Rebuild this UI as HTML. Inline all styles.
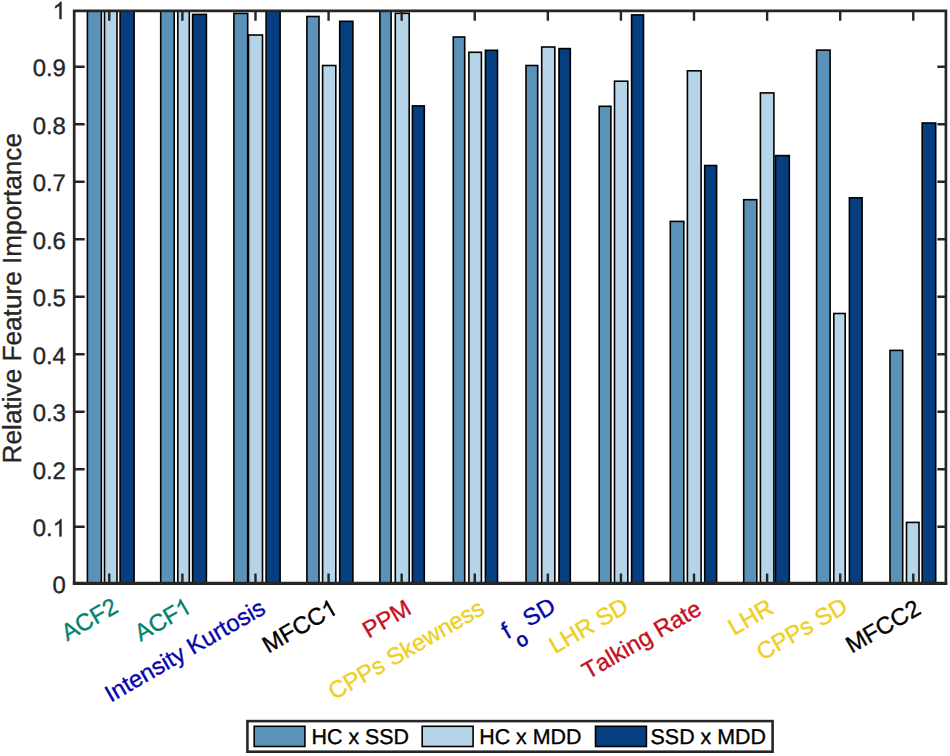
<!DOCTYPE html>
<html><head><meta charset="utf-8"><title>Relative Feature Importance</title>
<style>html,body{margin:0;padding:0;background:#fff;}svg{display:block;}text{font-family:"Liberation Sans",sans-serif;stroke-width:0.35px;stroke-linejoin:round;font-kerning:none;font-feature-settings:"kern" 0,"liga" 0;text-rendering:geometricPrecision;}</style></head><body>
<svg width="950" height="756" viewBox="0 0 950 756">
<rect x="0" y="0" width="950" height="756" fill="#fff"/>
<g stroke="#000" stroke-width="1.6" stroke-linejoin="miter">
<rect x="87.40" y="10.90" width="14.00" height="572.00" fill="#5b92b8"/>
<rect x="104.50" y="10.90" width="12.50" height="572.00" fill="#b6d4e8"/>
<rect x="120.10" y="10.90" width="14.00" height="572.00" fill="#063e80"/>
<rect x="160.70" y="10.90" width="13.50" height="572.00" fill="#5b92b8"/>
<rect x="177.80" y="10.90" width="11.50" height="572.00" fill="#b6d4e8"/>
<rect x="192.60" y="14.40" width="13.80" height="568.50" fill="#063e80"/>
<rect x="233.90" y="13.40" width="13.80" height="569.50" fill="#5b92b8"/>
<rect x="248.50" y="35.00" width="14.00" height="547.90" fill="#b6d4e8"/>
<rect x="266.10" y="10.90" width="14.00" height="572.00" fill="#063e80"/>
<rect x="306.90" y="16.50" width="12.10" height="566.40" fill="#5b92b8"/>
<rect x="322.60" y="65.50" width="13.20" height="517.40" fill="#b6d4e8"/>
<rect x="339.70" y="21.30" width="13.20" height="561.60" fill="#063e80"/>
<rect x="379.90" y="10.90" width="11.20" height="572.00" fill="#5b92b8"/>
<rect x="395.30" y="13.30" width="13.90" height="569.60" fill="#b6d4e8"/>
<rect x="412.40" y="105.90" width="11.90" height="477.00" fill="#063e80"/>
<rect x="453.30" y="37.00" width="11.40" height="545.90" fill="#5b92b8"/>
<rect x="468.90" y="52.30" width="12.50" height="530.60" fill="#b6d4e8"/>
<rect x="485.40" y="50.30" width="12.10" height="532.60" fill="#063e80"/>
<rect x="526.00" y="65.50" width="11.70" height="517.40" fill="#5b92b8"/>
<rect x="541.70" y="47.00" width="13.10" height="535.90" fill="#b6d4e8"/>
<rect x="559.00" y="48.60" width="11.30" height="534.30" fill="#063e80"/>
<rect x="599.20" y="106.30" width="11.70" height="476.60" fill="#5b92b8"/>
<rect x="614.50" y="81.20" width="13.30" height="501.70" fill="#b6d4e8"/>
<rect x="631.60" y="14.90" width="11.90" height="568.00" fill="#063e80"/>
<rect x="670.30" y="221.40" width="13.50" height="361.50" fill="#5b92b8"/>
<rect x="687.40" y="70.80" width="13.70" height="512.10" fill="#b6d4e8"/>
<rect x="704.70" y="165.50" width="11.90" height="417.40" fill="#063e80"/>
<rect x="743.70" y="199.70" width="13.10" height="383.20" fill="#5b92b8"/>
<rect x="760.40" y="92.90" width="13.50" height="490.00" fill="#b6d4e8"/>
<rect x="775.50" y="155.60" width="13.80" height="427.30" fill="#063e80"/>
<rect x="816.60" y="50.10" width="13.50" height="532.80" fill="#5b92b8"/>
<rect x="833.80" y="313.50" width="11.40" height="269.40" fill="#b6d4e8"/>
<rect x="849.40" y="197.80" width="12.70" height="385.10" fill="#063e80"/>
<rect x="890.00" y="350.40" width="12.70" height="232.50" fill="#5b92b8"/>
<rect x="906.50" y="522.40" width="12.50" height="60.50" fill="#b6d4e8"/>
<rect x="922.20" y="123.00" width="13.50" height="459.90" fill="#063e80"/>
</g>
<g stroke="#262626" fill="none" stroke-linecap="butt">
<path d="M72.85 10.90H947.25M74.20 10.90V584.80M945.90 10.90V584.80" stroke-width="2.7"/>
<path d="M72.85 583.30H947.25" stroke-width="3.2"/>
<path d="M74.20 526.80H84.70M945.90 526.80H937.40M74.20 469.30H84.70M945.90 469.30H937.40M74.20 411.80H84.70M945.90 411.80H937.40M74.20 354.30H84.70M945.90 354.30H937.40M74.20 296.80H84.70M945.90 296.80H937.40M74.20 239.30H84.70M945.90 239.30H937.40M74.20 181.80H84.70M945.90 181.80H937.40M74.20 124.30H84.70M945.90 124.30H937.40M74.20 66.80H84.70M945.90 66.80H937.40M109.30 10.90V20.80M109.30 582.90V573.60M182.39 10.90V20.80M182.39 582.90V573.60M255.48 10.90V20.80M255.48 582.90V573.60M328.57 10.90V20.80M328.57 582.90V573.60M401.66 10.90V20.80M401.66 582.90V573.60M474.75 10.90V20.80M474.75 582.90V573.60M547.84 10.90V20.80M547.84 582.90V573.60M620.93 10.90V20.80M620.93 582.90V573.60M694.02 10.90V20.80M694.02 582.90V573.60M767.11 10.90V20.80M767.11 582.90V573.60M840.20 10.90V20.80M840.20 582.90V573.60M913.29 10.90V20.80M913.29 582.90V573.60" stroke-width="2.4"/>
</g>
<g fill="#262626" stroke="#262626" font-size="23.9" text-anchor="end">
<text x="65.9" y="592.90">0</text>
<g transform="translate(65.9 536.40)"><text x="-13.29" y="0" text-anchor="end" font-size="23.9" fill="#262626" stroke="#262626">0.</text><path transform="translate(-13.29 0) scale(0.01167 -0.01167)" d="M763 0H583V1147Q518 1085 412.5 1023T223 930V1104Q374 1175 487 1276T647 1472H763Z" fill="#262626" stroke="#262626" stroke-width="30.0" stroke-linejoin="round"/></g>
<text x="65.9" y="478.90">0.2</text>
<text x="65.9" y="421.40">0.3</text>
<text x="65.9" y="363.90">0.4</text>
<text x="65.9" y="306.40">0.5</text>
<text x="65.9" y="248.90">0.6</text>
<text x="65.9" y="191.40">0.7</text>
<text x="65.9" y="133.90">0.8</text>
<text x="65.9" y="76.40">0.9</text>
<g transform="translate(65.9 19.00)"><path transform="translate(-13.29 0) scale(0.01167 -0.01167)" d="M763 0H583V1147Q518 1085 412.5 1023T223 930V1104Q374 1175 487 1276T647 1472H763Z" fill="#262626" stroke="#262626" stroke-width="30.0" stroke-linejoin="round"/></g>
</g>
<text transform="translate(21.3 298.2) rotate(-90)" text-anchor="middle" font-size="26.2" fill="#262626" stroke="#262626">Relative Feature Importance</text>
<text transform="translate(119.60 611.10) rotate(-30)" text-anchor="end" font-size="23.7" fill="#03826f" stroke="#03826f">ACF2</text>
<g transform="translate(192.94 611.60) rotate(-30)"><text x="-13.18" y="0" text-anchor="end" font-size="23.7" fill="#03826f" stroke="#03826f">ACF</text><path transform="translate(-13.18 0) scale(0.01157 -0.01157)" d="M763 0H583V1147Q518 1085 412.5 1023T223 930V1104Q374 1175 487 1276T647 1472H763Z" fill="#03826f" stroke="#03826f" stroke-width="30.2" stroke-linejoin="round"/></g>
<text transform="translate(266.98 612.50) rotate(-30)" text-anchor="end" font-size="23.7" fill="#0505aa" stroke="#0505aa">Intensity Kurtosis</text>
<g transform="translate(338.92 612.90) rotate(-30)"><text x="-13.18" y="0" text-anchor="end" font-size="23.7" fill="#000" stroke="#000">MFCC</text><path transform="translate(-13.18 0) scale(0.01157 -0.01157)" d="M763 0H583V1147Q518 1085 412.5 1023T223 930V1104Q374 1175 487 1276T647 1472H763Z" fill="#000" stroke="#000" stroke-width="30.2" stroke-linejoin="round"/></g>
<text transform="translate(412.96 613.00) rotate(-30)" text-anchor="end" font-size="23.7" fill="#c5111f" stroke="#c5111f">PPM</text>
<text transform="translate(486.00 612.80) rotate(-30)" text-anchor="end" font-size="23.7" fill="#efcf20" stroke="#efcf20">CPPs Skewness</text>
<text transform="translate(557.24 610.70) rotate(-30)" text-anchor="end" font-size="23.7" fill="#0505aa" stroke="#0505aa">f<tspan font-size="20.076" dy="14" dx="0.5" stroke-width="0.7">o</tspan><tspan dy="-14"> SD</tspan></text>
<text transform="translate(630.18 610.90) rotate(-30)" text-anchor="end" font-size="23.7" fill="#efcf20" stroke="#efcf20">LHR SD</text>
<text transform="translate(703.12 613.30) rotate(-30)" text-anchor="end" font-size="23.7" fill="#c5111f" stroke="#c5111f">Talking Rate</text>
<text transform="translate(775.06 612.20) rotate(-30)" text-anchor="end" font-size="23.7" fill="#efcf20" stroke="#efcf20">LHR</text>
<text transform="translate(849.20 610.90) rotate(-30)" text-anchor="end" font-size="23.7" fill="#efcf20" stroke="#efcf20">CPPs SD</text>
<text transform="translate(922.34 613.00) rotate(-30)" text-anchor="end" font-size="23.7" fill="#000" stroke="#000">MFCC2</text>
<rect x="247.4" y="721.1" width="525.20" height="30.60" fill="#fff" stroke="#262626" stroke-width="2.6"/>
<rect x="254.20" y="726.30" width="50.70" height="20.20" fill="#5b92b8" stroke="#000" stroke-width="1.6"/>
<text x="311.60" y="743.9" font-size="21.4" fill="#000" stroke="#000">HC x SSD</text>
<rect x="422.20" y="726.30" width="50.90" height="20.20" fill="#b6d4e8" stroke="#000" stroke-width="1.6"/>
<text x="479.20" y="743.9" font-size="21.4" fill="#000" stroke="#000">HC x MDD</text>
<rect x="595.50" y="726.30" width="50.90" height="20.20" fill="#063e80" stroke="#000" stroke-width="1.6"/>
<text x="650.60" y="743.9" font-size="21.4" fill="#000" stroke="#000">SSD x MDD</text>
</svg></body></html>
